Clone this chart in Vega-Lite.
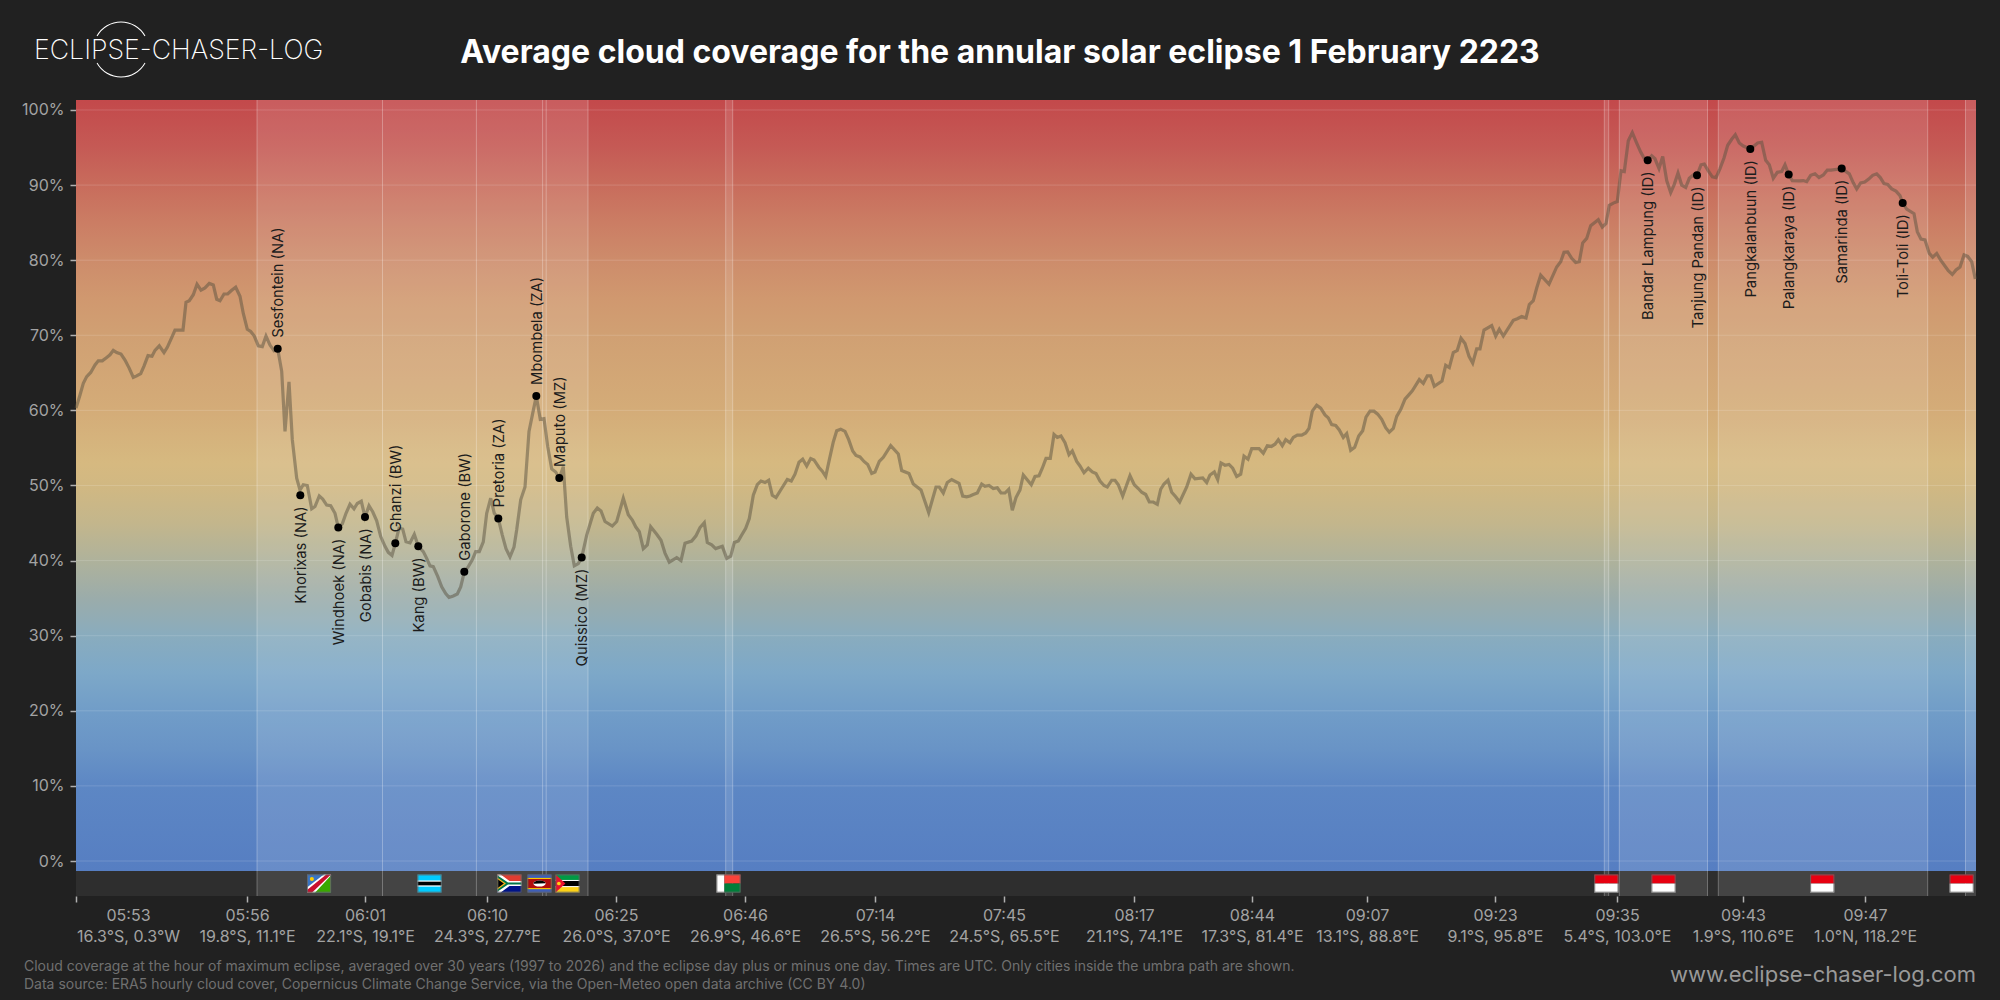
{
  "$schema": "https://vega.github.io/schema/vega-lite/v6.json",
  "width": 1900,
  "height": 796,
  "autosize": "none",
  "padding": {"left": 76, "top": 100, "right": 24, "bottom": 104},
  "background": "#212121",
  "config": {
    "view": {"stroke": null},
    "font": "Inter",
    "axis": {"grid": false, "domain": false, "title": null}
  },
  "title": {
    "text": "Average cloud coverage for the annular solar eclipse 1 February 2223",
    "font": "Inter",
    "fontSize": 32,
    "fontWeight": 700,
    "color": "#ffffff",
    "anchor": "middle",
    "frame": "group",
    "baseline": "alphabetic",
    "dx": -26,
    "offset": -73
  },
  "datasets": {
    "cloud": [
      {"path":0,"cloud":60.3},{"path":4,"cloud":62.05},{"path":7.3,"cloud":63.6},{"path":10.7,"cloud":64.5},{"path":14.7,"cloud":65.05},{"path":19,"cloud":66.05},{"path":22.3,"cloud":66.6},{"path":26.3,"cloud":66.6},{"path":30.7,"cloud":67.05},{"path":34,"cloud":67.4},{"path":37.3,"cloud":68},{"path":40.7,"cloud":67.7},{"path":45,"cloud":67.5},{"path":49,"cloud":66.7},{"path":53.3,"cloud":65.6},{"path":57.3,"cloud":64.4},{"path":60.7,"cloud":64.6},{"path":64.7,"cloud":64.9},{"path":68,"cloud":65.9},{"path":72,"cloud":67.3},{"path":76,"cloud":67.2},{"path":79,"cloud":68},{"path":83.3,"cloud":68.6},{"path":88,"cloud":67.7},{"path":91.3,"cloud":68.4},{"path":95,"cloud":69.5},{"path":99,"cloud":70.7},{"path":102.3,"cloud":70.7},{"path":107,"cloud":70.7},{"path":110,"cloud":74.4},{"path":113.3,"cloud":74.6},{"path":117.3,"cloud":75.4},{"path":121,"cloud":76.8},{"path":125,"cloud":76},{"path":129,"cloud":76.3},{"path":133.3,"cloud":76.9},{"path":137.3,"cloud":76.7},{"path":140.7,"cloud":74.8},{"path":144,"cloud":74.6},{"path":148,"cloud":75.5},{"path":151.7,"cloud":75.5},{"path":155.7,"cloud":76},{"path":159.7,"cloud":76.4},{"path":164,"cloud":75.2},{"path":167.3,"cloud":72.9},{"path":171.3,"cloud":70.8},{"path":174.7,"cloud":70.5},{"path":178.3,"cloud":69.9},{"path":182.3,"cloud":68.6},{"path":186.3,"cloud":68.5},{"path":190,"cloud":69.9},{"path":194,"cloud":68.7},{"path":198,"cloud":67.95},{"path":201.7,"cloud":68.2},
      {"path":205.7,"cloud":65.2},{"path":209,"cloud":57.2},{"path":213,"cloud":63.8},{"path":216.3,"cloud":56.1},{"path":220.7,"cloud":50.96},{"path":224,"cloud":49.4},{"path":227.3,"cloud":50.1},{"path":231.3,"cloud":50},{"path":235.7,"cloud":46.9},{"path":239,"cloud":47.2},{"path":243.3,"cloud":48.6},{"path":246.7,"cloud":48.2},{"path":250.7,"cloud":47.4},{"path":254.7,"cloud":47.3},{"path":259,"cloud":46.3},{"path":262.3,"cloud":44.4},{"path":266.3,"cloud":44.9},{"path":270,"cloud":46.3},{"path":274,"cloud":47.5},{"path":278,"cloud":46.9},{"path":281.3,"cloud":47.6},{"path":285.3,"cloud":47.9},{"path":289,"cloud":45.8},{"path":293,"cloud":47.3},{"path":296.7,"cloud":46.5},{"path":300.7,"cloud":45.3},{"path":304.7,"cloud":43.2},{"path":309,"cloud":41.9},{"path":312.3,"cloud":41.1},{"path":316,"cloud":40.7},{"path":319.3,"cloud":42.3},{"path":323,"cloud":44.3},{"path":326.7,"cloud":44.2},{"path":330,"cloud":42.5},{"path":334,"cloud":42.35},{"path":338.3,"cloud":43.5},{"path":342.3,"cloud":41.9},{"path":347.3,"cloud":41.2},{"path":350.7,"cloud":40.3},{"path":354,"cloud":39.3},{"path":357.3,"cloud":39.2},{"path":361.7,"cloud":37.9},{"path":365.7,"cloud":36.5},{"path":369.7,"cloud":35.6},{"path":373,"cloud":35.1},{"path":377.3,"cloud":35.3},{"path":381.3,"cloud":35.55},{"path":384.7,"cloud":36.5},{"path":388.3,"cloud":38.5},{"path":392.3,"cloud":39.2},{"path":396.3,"cloud":40.1},{"path":399.7,"cloud":41.2},{"path":403.3,"cloud":41.2},{"path":407.3,"cloud":42.5},{"path":410.7,"cloud":46.3},{"path":414.7,"cloud":48.3},{"path":418.3,"cloud":46.3},{"path":422.3,"cloud":45.6},{"path":426.3,"cloud":43.4},{"path":430,"cloud":41.6},{"path":434,"cloud":40.5},{"path":438,"cloud":41.8},{"path":440.7,"cloud":44.1},{"path":444.7,"cloud":48.1},{"path":449,"cloud":49.8},{"path":453,"cloud":57.2},{"path":456.7,"cloud":59.6},{"path":460.3,"cloud":61.9},{"path":464.3,"cloud":58.8},{"path":468,"cloud":58.9},{"path":471.7,"cloud":55.2},{"path":475.7,"cloud":52.2},{"path":479.7,"cloud":51.8},{"path":483.3,"cloud":51},{"path":487.3,"cloud":52.5},{"path":490.7,"cloud":45.8},{"path":494.7,"cloud":41.9},{"path":498.3,"cloud":39.3},{"path":502.3,"cloud":39.6},{"path":505.7,"cloud":40.4},
      {"path":510.7,"cloud":43.4},{"path":517.3,"cloud":46.3},{"path":521.3,"cloud":47},{"path":525,"cloud":46.6},{"path":529,"cloud":45.2},{"path":536.3,"cloud":44.6},{"path":540.7,"cloud":45.2},{"path":547.3,"cloud":48.3},{"path":552.3,"cloud":46.1},{"path":556.3,"cloud":45.4},{"path":559.7,"cloud":44.5},{"path":563.3,"cloud":43.85},{"path":567.3,"cloud":41.6},{"path":571.3,"cloud":42.1},{"path":574.7,"cloud":44.5},{"path":580.7,"cloud":43.5},{"path":585,"cloud":42.7},{"path":589,"cloud":41},{"path":593.3,"cloud":39.8},{"path":600.7,"cloud":40.4},{"path":605,"cloud":40},{"path":609,"cloud":42.3},{"path":615.7,"cloud":42.6},{"path":620,"cloud":43.3},{"path":624,"cloud":44.4},{"path":628.3,"cloud":45.05},{"path":631.3,"cloud":42.4},{"path":635.7,"cloud":42.1},{"path":639.7,"cloud":41.6},{"path":646.3,"cloud":41.9},{"path":650.7,"cloud":40.3},{"path":654.7,"cloud":40.6},{"path":658.3,"cloud":42.4},{"path":662.3,"cloud":42.6},{"path":665.7,"cloud":43.4},{"path":669.7,"cloud":44.3},{"path":673.3,"cloud":45.6},{"path":677.3,"cloud":48.7},{"path":681.3,"cloud":50.1},{"path":685,"cloud":50.6},{"path":689,"cloud":50.4},{"path":692.7,"cloud":50.7},{"path":696.3,"cloud":48.7},{"path":700,"cloud":48.4},{"path":704.7,"cloud":49.4},{"path":711.3,"cloud":50.8},{"path":715.3,"cloud":50.6},{"path":719,"cloud":51.5},{"path":723,"cloud":53.1},{"path":726.7,"cloud":53.5},{"path":730.7,"cloud":52.6},{"path":734.7,"cloud":53.6},{"path":738,"cloud":53.4},{"path":743,"cloud":52.4},{"path":746.3,"cloud":51.9},{"path":749.7,"cloud":51.2},{"path":753.3,"cloud":53.4},{"path":757.3,"cloud":55.8},{"path":760.7,"cloud":57.3},{"path":764.7,"cloud":57.5},{"path":769,"cloud":57.2},{"path":772.7,"cloud":56.1},{"path":776.7,"cloud":54.6},{"path":780,"cloud":54},{"path":784,"cloud":53.8},{"path":788,"cloud":53.2},{"path":791.7,"cloud":52.8},{"path":795.7,"cloud":51.6},{"path":799,"cloud":51.8},{"path":803.3,"cloud":53.2},{"path":807.3,"cloud":53.75},{"path":814.7,"cloud":55.3},{"path":822.3,"cloud":54.2},{"path":825.7,"cloud":52},{"path":833,"cloud":51.6},{"path":837.3,"cloud":50.2},{"path":845,"cloud":49.4},{"path":852.7,"cloud":46.4},{"path":860,"cloud":49.8},{"path":863.3,"cloud":49.8},{"path":867.3,"cloud":49},{"path":871.3,"cloud":50.4},{"path":875.7,"cloud":50.8},{"path":883,"cloud":50.3},{"path":886.7,"cloud":48.6},{"path":890.7,"cloud":48.5},{"path":894,"cloud":48.6},{"path":897.3,"cloud":48.8},{"path":901.3,"cloud":49},{"path":905.7,"cloud":50.2},{"path":909,"cloud":49.9},{"path":913,"cloud":50},{"path":917.3,"cloud":49.6},{"path":921.3,"cloud":49.7},{"path":925,"cloud":49},{"path":929,"cloud":49},{"path":932.7,"cloud":49.5},{"path":936.3,"cloud":46.7},{"path":940,"cloud":48.4},{"path":944,"cloud":49.4},{"path":947.3,"cloud":51.4},{"path":955.3,"cloud":50.1},{"path":959,"cloud":51.2},{"path":963,"cloud":51.3},{"path":966.3,"cloud":52.3},{"path":970,"cloud":53.6},{"path":974.3,"cloud":53.6},{"path":978,"cloud":56.8},{"path":981.3,"cloud":56.4},{"path":985,"cloud":56.6},{"path":989,"cloud":55.7},{"path":993,"cloud":54.1},{"path":996.3,"cloud":54.6},{"path":1000.7,"cloud":53.2},
      {"path":1004,"cloud":52.6},{"path":1008,"cloud":51.7},{"path":1012.3,"cloud":52.3},{"path":1016.3,"cloud":51.8},{"path":1020,"cloud":51.6},{"path":1024,"cloud":50.6},{"path":1028,"cloud":50},{"path":1031.3,"cloud":49.8},{"path":1035.7,"cloud":50.7},{"path":1039,"cloud":50.7},{"path":1042.3,"cloud":50.1},{"path":1046.7,"cloud":48.6},{"path":1054,"cloud":51.3},{"path":1058.3,"cloud":50.1},{"path":1062.3,"cloud":49.6},{"path":1065.7,"cloud":49.1},{"path":1069.7,"cloud":48.8},{"path":1073.3,"cloud":47.8},{"path":1077.3,"cloud":47.8},{"path":1081.3,"cloud":47.5},{"path":1084.7,"cloud":49.5},{"path":1088,"cloud":50.2},{"path":1092,"cloud":50.7},{"path":1095.7,"cloud":49.1},{"path":1099.7,"cloud":48.5},{"path":1103.7,"cloud":47.8},{"path":1110.7,"cloud":49.8},{"path":1115,"cloud":51.5},{"path":1119,"cloud":50.9},{"path":1126.7,"cloud":51},{"path":1130.7,"cloud":50.4},{"path":1134,"cloud":51.4},{"path":1138.3,"cloud":51.8},{"path":1141.7,"cloud":50.8},{"path":1145,"cloud":53},{"path":1149,"cloud":52.7},{"path":1153,"cloud":52.8},{"path":1156.7,"cloud":52.3},{"path":1160.7,"cloud":51.2},{"path":1164.7,"cloud":51.5},{"path":1168,"cloud":53.9},{"path":1172,"cloud":53.5},{"path":1175.7,"cloud":54.9},{"path":1183,"cloud":54.9},{"path":1187.3,"cloud":54.3},{"path":1191.3,"cloud":55.3},{"path":1195.3,"cloud":55.2},{"path":1199,"cloud":55.5},{"path":1202.3,"cloud":56.1},{"path":1206.3,"cloud":55.3},{"path":1209.7,"cloud":56.1},{"path":1214,"cloud":55.7},{"path":1217.3,"cloud":56.4},{"path":1221.3,"cloud":56.7},{"path":1225.7,"cloud":56.7},{"path":1229.7,"cloud":57},{"path":1233,"cloud":57.6},{"path":1236.3,"cloud":59.9},{"path":1240.7,"cloud":60.7},{"path":1244.7,"cloud":60.3},{"path":1249,"cloud":59.4},{"path":1252.3,"cloud":59},{"path":1255.7,"cloud":58.1},{"path":1259.7,"cloud":58},{"path":1263.3,"cloud":57.4},{"path":1267.3,"cloud":56.4},{"path":1270.7,"cloud":56.9},{"path":1274.7,"cloud":54.7},{"path":1278.7,"cloud":55.1},{"path":1282.7,"cloud":56.6},{"path":1286.7,"cloud":57.3},{"path":1290,"cloud":59.1},{"path":1294,"cloud":59.9},{"path":1298,"cloud":59.9},{"path":1301.7,"cloud":59.5},{"path":1305.7,"cloud":58.8},{"path":1309.7,"cloud":57.7},{"path":1313.3,"cloud":57.1},{"path":1317.3,"cloud":57.6},{"path":1320.7,"cloud":59.2},{"path":1324.7,"cloud":60.1},{"path":1329,"cloud":61.5},{"path":1333,"cloud":62.1},{"path":1336.3,"cloud":62.6},{"path":1343.3,"cloud":64.1},{"path":1347.3,"cloud":63.6},{"path":1351.3,"cloud":64.6},{"path":1354.7,"cloud":64.6},{"path":1358.3,"cloud":63.2},{"path":1366,"cloud":63.9},{"path":1369.7,"cloud":66},{"path":1373.3,"cloud":65.7},{"path":1377.3,"cloud":67.7},{"path":1381.3,"cloud":68},{"path":1385,"cloud":69.6},{"path":1389,"cloud":68.9},{"path":1393,"cloud":67.2},{"path":1396.7,"cloud":66.3},{"path":1400.7,"cloud":68.2},{"path":1404,"cloud":68.2},{"path":1408,"cloud":70.7},{"path":1415.7,"cloud":71.3},{"path":1419.7,"cloud":69.9},{"path":1423.3,"cloud":70.8},{"path":1427.3,"cloud":69.9},
      {"path":1437.3,"cloud":72},{"path":1441.3,"cloud":72.2},{"path":1445.7,"cloud":72.5},{"path":1450,"cloud":72.3},{"path":1453.3,"cloud":74.1},{"path":1457.3,"cloud":74.6},{"path":1460.7,"cloud":76.3},{"path":1464.7,"cloud":78},{"path":1473,"cloud":76.8},{"path":1480.7,"cloud":79.1},{"path":1484.7,"cloud":79.8},{"path":1488,"cloud":81.05},{"path":1491.7,"cloud":81.1},{"path":1495.7,"cloud":80.25},{"path":1499.7,"cloud":79.7},{"path":1503.3,"cloud":79.8},{"path":1506.7,"cloud":82.3},{"path":1510.7,"cloud":82.9},{"path":1514.7,"cloud":84.6},{"path":1522.3,"cloud":85.4},{"path":1526.3,"cloud":84.4},{"path":1530,"cloud":84.9},{"path":1533.3,"cloud":87.3},{"path":1537.3,"cloud":87.6},{"path":1541.3,"cloud":87.8},{"path":1545,"cloud":91.9},{"path":1548.3,"cloud":91.8},{"path":1552.3,"cloud":95.9},{"path":1556.3,"cloud":97},{"path":1560.7,"cloud":95.6},{"path":1564.7,"cloud":94.4},{"path":1568,"cloud":93.6},{"path":1571.7,"cloud":93.3},{"path":1575.7,"cloud":93.9},{"path":1579,"cloud":93.5},{"path":1583,"cloud":92.2},{"path":1586.7,"cloud":93.8},{"path":1590.7,"cloud":90.6},{"path":1594.7,"cloud":89},{"path":1598.3,"cloud":90.1},{"path":1602,"cloud":91.6},{"path":1605.7,"cloud":90},{"path":1609.7,"cloud":89.7},{"path":1613.3,"cloud":90.9},{"path":1617.3,"cloud":91.35},{"path":1621,"cloud":91.3},{"path":1625,"cloud":92.7},{"path":1628.3,"cloud":92.8},{"path":1632.3,"cloud":91.9},{"path":1636.3,"cloud":91.1},{"path":1640,"cloud":91},{"path":1644,"cloud":92.2},{"path":1648,"cloud":93.6},{"path":1651.7,"cloud":95.3},{"path":1655.7,"cloud":96.1},{"path":1659.3,"cloud":96.7},{"path":1663.3,"cloud":95.6},{"path":1667.3,"cloud":95.2},{"path":1674.3,"cloud":94.8},{"path":1678,"cloud":95.2},{"path":1681.7,"cloud":95.6},{"path":1685.7,"cloud":95.7},{"path":1689.7,"cloud":93.3},{"path":1693.3,"cloud":92.7},{"path":1697.3,"cloud":90.9},{"path":1701.3,"cloud":91.7},{"path":1705.7,"cloud":91.8},{"path":1709,"cloud":92.7},{"path":1712.7,"cloud":91.4},{"path":1716.3,"cloud":90.6},{"path":1724,"cloud":90.55},{"path":1727.3,"cloud":90.6},{"path":1730.7,"cloud":90.45},{"path":1734.7,"cloud":91.3},{"path":1739,"cloud":91.5},{"path":1743,"cloud":91},{"path":1747.3,"cloud":91.35},{"path":1751.3,"cloud":92},{"path":1755,"cloud":92},{"path":1765.7,"cloud":92.2},{"path":1769,"cloud":91.9},{"path":1773.3,"cloud":91.5},{"path":1777.3,"cloud":90.3},{"path":1780.7,"cloud":89.5},{"path":1784.7,"cloud":90.3},{"path":1788.7,"cloud":90.4},{"path":1792.7,"cloud":90.8},{"path":1796.7,"cloud":91.3},{"path":1800.7,"cloud":91.5},{"path":1804.3,"cloud":91},{"path":1808,"cloud":90.2},{"path":1811.7,"cloud":90.1},{"path":1815.7,"cloud":89.5},{"path":1820,"cloud":89.2},{"path":1824,"cloud":88.6},{"path":1826.7,"cloud":87.6},{"path":1830.7,"cloud":86.8},{"path":1838,"cloud":86.2},{"path":1841.3,"cloud":83.8},{"path":1845,"cloud":82.8},{"path":1849,"cloud":82.7},{"path":1853.3,"cloud":80.9},{"path":1856.7,"cloud":80.4},{"path":1860.7,"cloud":80.9},{"path":1864.7,"cloud":80},{"path":1872.3,"cloud":78.6},{"path":1876.3,"cloud":78.1},{"path":1880,"cloud":78.7},{"path":1884,"cloud":79.1},{"path":1888,"cloud":80.7},{"path":1891.7,"cloud":80.5},{"path":1895.7,"cloud":79.8},{"path":1899.3,"cloud":77.5}
    ],
    "cities": [
      {"city":"Sesfontein (NA)","path":201.7,"cloud":68.2,"side":"above"},
      {"city":"Khorixas (NA)","path":224.3,"cloud":48.7,"side":"below"},
      {"city":"Windhoek (NA)","path":262.3,"cloud":44.4,"side":"below"},
      {"city":"Gobabis (NA)","path":289,"cloud":45.8,"side":"below"},
      {"city":"Ghanzi (BW)","path":319.3,"cloud":42.3,"side":"above"},
      {"city":"Kang (BW)","path":342.3,"cloud":41.9,"side":"below"},
      {"city":"Gaborone (BW)","path":388.3,"cloud":38.5,"side":"above"},
      {"city":"Pretoria (ZA)","path":422.3,"cloud":45.6,"side":"above"},
      {"city":"Mbombela (ZA)","path":460.3,"cloud":61.9,"side":"above"},
      {"city":"Maputo (MZ)","path":483.3,"cloud":51,"side":"above"},
      {"city":"Quissico (MZ)","path":505.7,"cloud":40.4,"side":"below"},
      {"city":"Bandar Lampung (ID)","path":1571.7,"cloud":93.3,"side":"below"},
      {"city":"Tanjung Pandan (ID)","path":1621,"cloud":91.3,"side":"below"},
      {"city":"Pangkalanbuun (ID)","path":1674.3,"cloud":94.8,"side":"below"},
      {"city":"Palangkaraya (ID)","path":1712.7,"cloud":91.4,"side":"below"},
      {"city":"Samarinda (ID)","path":1765.7,"cloud":92.2,"side":"below"},
      {"city":"Toli-Toli (ID)","path":1826.7,"cloud":87.6,"side":"below"}
    ],
    "umbra": [
      {"start":181,"end":512},
      {"start":649.7,"end":656.7},
      {"start":1528.3,"end":1532.7},
      {"start":1543.3,"end":1631.5},
      {"start":1642.3,"end":1851.7},
      {"start":1889.5,"end":1900}
    ],
    "borders": [
      {"path":181},{"path":306.5},{"path":400.4},{"path":466.6},{"path":470.2},{"path":512},
      {"path":649.7},{"path":656.7},{"path":1528.3},{"path":1532.7},{"path":1543.3},{"path":1631.5},{"path":1642.3},{"path":1851.7},{"path":1889.5}
    ],
    "grid": [
      {"pct":0},{"pct":10},{"pct":20},{"pct":30},{"pct":40},{"pct":50},{"pct":60},{"pct":70},{"pct":80},{"pct":90},{"pct":100}
    ],
    "flags": [
      {"country":"NA","path":243,"url":"data:image/svg+xml;utf8,<svg xmlns='http://www.w3.org/2000/svg' width='24' height='18' viewBox='0 0 24 18' preserveAspectRatio='none'><rect width='24' height='18' fill='%233a75c4'/><path d='M0 18L24 0V18Z' fill='%2339a800'/><path d='M0 18V13L17 0H24V1L8 18Z' fill='%23fff'/><path d='M0 18V15.5L19.5 0H24L5 18Z' fill='%23c8102e'/><circle cx='5' cy='4.5' r='2' fill='%23ffce00'/><rect x='.5' y='.5' width='23' height='17' fill='none' stroke='%23666'/></svg>"},
      {"country":"BW","path":353.5,"url":"data:image/svg+xml;utf8,<svg xmlns='http://www.w3.org/2000/svg' width='24' height='18' viewBox='0 0 24 18' preserveAspectRatio='none'><rect width='24' height='18' fill='%2300cbff'/><rect y='6' width='24' height='6' fill='%23fff'/><rect y='7.2' width='24' height='3.6' fill='%23000'/><rect x='.5' y='.5' width='23' height='17' fill='none' stroke='%23666'/></svg>"},
      {"country":"ZA","path":433.5,"url":"data:image/svg+xml;utf8,<svg xmlns='http://www.w3.org/2000/svg' width='24' height='18' viewBox='0 0 24 18' preserveAspectRatio='none'><rect width='24' height='9' fill='%23e03c31'/><rect y='9' width='24' height='9' fill='%23001489'/><path d='M0 0H3L12 6.5H24V11.5H12L3 18H0Z' fill='%23fff'/><path d='M0 1L10.5 8H24V10H10.5L0 17Z' fill='%23007749'/><path d='M0 3L8.5 9L0 15Z' fill='%23ffb81c'/><path d='M0 4.5L6.5 9L0 13.5Z' fill='%23000'/><rect x='.5' y='.5' width='23' height='17' fill='none' stroke='%23666'/></svg>"},
      {"country":"SZ","path":463.5,"url":"data:image/svg+xml;utf8,<svg xmlns='http://www.w3.org/2000/svg' width='24' height='18' viewBox='0 0 24 18' preserveAspectRatio='none'><rect width='24' height='18' fill='%233e5eb9'/><rect y='3.5' width='24' height='11' fill='%23ffd900'/><rect y='4.5' width='24' height='9' fill='%23b10c0c'/><ellipse cx='12' cy='9' rx='6' ry='3' fill='%23fff'/><path d='M6 9A6 3 0 0 1 18 9Z' fill='%23000' transform='rotate(-3 12 9)'/><rect x='.5' y='.5' width='23' height='17' fill='none' stroke='%23666'/></svg>"},
      {"country":"MZ","path":491.5,"url":"data:image/svg+xml;utf8,<svg xmlns='http://www.w3.org/2000/svg' width='24' height='18' viewBox='0 0 24 18' preserveAspectRatio='none'><rect width='24' height='6' fill='%23009a44'/><rect y='6' width='24' height='6' fill='%23000'/><rect y='12' width='24' height='6' fill='%23fcd116'/><rect y='5.5' width='24' height='1' fill='%23fff'/><rect y='11.5' width='24' height='1' fill='%23fff'/><path d='M0 0L10 9L0 18Z' fill='%23e8112d'/><circle cx='3.5' cy='9' r='1.8' fill='%23fcd116'/><rect x='.5' y='.5' width='23' height='17' fill='none' stroke='%23666'/></svg>"},
      {"country":"MG","path":652.5,"url":"data:image/svg+xml;utf8,<svg xmlns='http://www.w3.org/2000/svg' width='24' height='18' viewBox='0 0 24 18' preserveAspectRatio='none'><rect width='8' height='18' fill='%23fff'/><rect x='8' width='16' height='9' fill='%23f9423a'/><rect x='8' y='9' width='16' height='9' fill='%23007e3a'/><rect x='.5' y='.5' width='23' height='17' fill='none' stroke='%23666'/></svg>"},
      {"country":"ID","path":1530.4,"url":"data:image/svg+xml;utf8,<svg xmlns='http://www.w3.org/2000/svg' width='24' height='18' viewBox='0 0 24 18' preserveAspectRatio='none'><rect width='24' height='9' fill='%23e70011'/><rect y='9' width='24' height='9' fill='%23fff'/><rect x='.5' y='.5' width='23' height='17' fill='none' stroke='%23666'/></svg>"},
      {"country":"ID","path":1587.5,"url":"data:image/svg+xml;utf8,<svg xmlns='http://www.w3.org/2000/svg' width='24' height='18' viewBox='0 0 24 18' preserveAspectRatio='none'><rect width='24' height='9' fill='%23e70011'/><rect y='9' width='24' height='9' fill='%23fff'/><rect x='.5' y='.5' width='23' height='17' fill='none' stroke='%23666'/></svg>"},
      {"country":"ID","path":1746.3,"url":"data:image/svg+xml;utf8,<svg xmlns='http://www.w3.org/2000/svg' width='24' height='18' viewBox='0 0 24 18' preserveAspectRatio='none'><rect width='24' height='9' fill='%23e70011'/><rect y='9' width='24' height='9' fill='%23fff'/><rect x='.5' y='.5' width='23' height='17' fill='none' stroke='%23666'/></svg>"},
      {"country":"ID","path":1885.6,"url":"data:image/svg+xml;utf8,<svg xmlns='http://www.w3.org/2000/svg' width='24' height='18' viewBox='0 0 24 18' preserveAspectRatio='none'><rect width='24' height='9' fill='%23e70011'/><rect y='9' width='24' height='9' fill='%23fff'/><rect x='.5' y='.5' width='23' height='17' fill='none' stroke='%23666'/></svg>"}
    ]
  },
  "layer": [
    {
      "data": {"values": [{"band": "coverage"}]},
      "mark": {
        "type": "rect",
        "color": {
          "gradient": "linear",
          "x1": 0, "y1": 0, "x2": 0, "y2": 1,
          "stops": [
            {"offset": 0, "color": "#c3494b"},
            {"offset": 0.062, "color": "#c55a55"},
            {"offset": 0.11, "color": "#c86c5c"},
            {"offset": 0.159, "color": "#cb7d64"},
            {"offset": 0.208, "color": "#cd8c6b"},
            {"offset": 0.257, "color": "#d0986f"},
            {"offset": 0.305, "color": "#d0a073"},
            {"offset": 0.403, "color": "#d4ac78"},
            {"offset": 0.471, "color": "#d6b980"},
            {"offset": 0.5, "color": "#d1b882"},
            {"offset": 0.549, "color": "#c3b68c"},
            {"offset": 0.597, "color": "#afb29b"},
            {"offset": 0.646, "color": "#9bacaa"},
            {"offset": 0.695, "color": "#89acbe"},
            {"offset": 0.743, "color": "#7da8c8"},
            {"offset": 0.792, "color": "#719dc8"},
            {"offset": 0.841, "color": "#6994c6"},
            {"offset": 0.889, "color": "#5d87c4"},
            {"offset": 1, "color": "#567ec2"}
          ]
        }
      },
      "encoding": {
        "y": {"datum": 101.33, "type": "quantitative", "scale": {"domain": [-4.66, 101.33], "nice": false, "zero": false}},
        "y2": {"datum": -1.33}
      }
    },
    {
      "data": {"values": [{"band": "countries"}]},
      "mark": {"type": "rect", "color": "#2e2e2e"},
      "encoding": {
        "y": {"datum": -1.33, "type": "quantitative"},
        "y2": {"datum": -4.66}
      }
    },
    {
      "data": {"name": "grid"},
      "mark": {"type": "rule", "color": "#ffffff", "opacity": 0.15, "strokeWidth": 1},
      "encoding": {"y": {"field": "pct", "type": "quantitative"}}
    },
    {
      "data": {"name": "umbra"},
      "mark": {"type": "rect", "color": "#ffffff", "opacity": 0.11},
      "encoding": {
        "x": {"field": "start", "type": "quantitative", "scale": {"domain": [0, 1900], "nice": false, "zero": false}},
        "x2": {"field": "end"}
      }
    },
    {
      "data": {"name": "borders"},
      "mark": {"type": "rule", "color": "#ffffff", "opacity": 0.28, "strokeWidth": 1},
      "encoding": {"x": {"field": "path", "type": "quantitative"}}
    },
    {
      "data": {"name": "cloud"},
      "mark": {"type": "line", "color": "#5a5240", "opacity": 0.5, "strokeWidth": 3.2, "interpolate": "linear"},
      "encoding": {
        "x": {
          "field": "path",
          "type": "quantitative",
          "axis": {
            "title": null,
            "values": [0, 171, 289, 411, 540, 669, 799, 928, 1058, 1176, 1291, 1419, 1541, 1667, 1789],
            "labelExpr": "{'0':['05:53','16.3°S, 0.3°W'],'171':['05:56','19.8°S, 11.1°E'],'289':['06:01','22.1°S, 19.1°E'],'411':['06:10','24.3°S, 27.7°E'],'540':['06:25','26.0°S, 37.0°E'],'669':['06:46','26.9°S, 46.6°E'],'799':['07:14','26.5°S, 56.2°E'],'928':['07:45','24.5°S, 65.5°E'],'1058':['08:17','21.1°S, 74.1°E'],'1176':['08:44','17.3°S, 81.4°E'],'1291':['09:07','13.1°S, 88.8°E'],'1419':['09:23','9.1°S, 95.8°E'],'1541':['09:35','5.4°S, 103.0°E'],'1667':['09:43','1.9°S, 110.6°E'],'1789':['09:47','1.0°N, 118.2°E']}[datum.value]",
            "labelAlign": "center",
            "labelOffset": {"condition": {"test": "datum.value === 0", "value": 52}, "value": 0},
            "labelFont": "Inter",
            "labelFontSize": 16,
            "labelColor": "#a3a3a3",
            "labelLineHeight": 21,
            "labelPadding": 5,
            "labelOverlap": false,
            "labelBound": false,
            "labelFlush": false,
            "tickColor": "#b0b0b0",
            "tickWidth": 1.5,
            "tickSize": 6
          }
        },
        "y": {
          "field": "cloud",
          "type": "quantitative",
          "axis": {
            "title": null,
            "values": [0, 10, 20, 30, 40, 50, 60, 70, 80, 90, 100],
            "labelExpr": "datum.value + '%'",
            "labelFont": "Inter",
            "labelFontSize": 16,
            "labelColor": "#a3a3a3",
            "labelPadding": 6,
            "tickColor": "#b0b0b0",
            "tickWidth": 1.5,
            "tickSize": 6
          }
        }
      }
    },
    {
      "data": {"name": "flags"},
      "mark": {"type": "image", "width": 24.4, "height": 18.4, "aspect": false},
      "encoding": {
        "x": {"field": "path", "type": "quantitative"},
        "y": {"datum": -3, "type": "quantitative"},
        "url": {"field": "url", "type": "nominal"}
      }
    },
    {
      "data": {"name": "cities"},
      "mark": {"type": "point", "filled": true, "color": "#000000", "size": 64, "opacity": 1},
      "encoding": {
        "x": {"field": "path", "type": "quantitative"},
        "y": {"field": "cloud", "type": "quantitative"}
      }
    },
    {
      "data": {"name": "cities"},
      "transform": [{"filter": "datum.side === 'above'"}],
      "mark": {"type": "text", "angle": 270, "align": "left", "baseline": "middle", "dx": 11, "dy": 1.5, "font": "Inter", "fontSize": 14.8, "color": "#1c1c1c"},
      "encoding": {
        "x": {"field": "path", "type": "quantitative"},
        "y": {"field": "cloud", "type": "quantitative"},
        "text": {"field": "city"}
      }
    },
    {
      "data": {"name": "cities"},
      "transform": [{"filter": "datum.side === 'below'"}],
      "mark": {"type": "text", "angle": 270, "align": "right", "baseline": "middle", "dx": -11, "dy": 1.5, "font": "Inter", "fontSize": 14.8, "color": "#1c1c1c"},
      "encoding": {
        "x": {"field": "path", "type": "quantitative"},
        "y": {"field": "cloud", "type": "quantitative"},
        "text": {"field": "city"}
      }
    },
    {
      "data": {"values": [{"logo": "ECLIPSE-CHASER-LOG"}]},
      "mark": {"type": "text", "align": "left", "baseline": "alphabetic", "font": "Inter", "fontSize": 26.7, "fontWeight": 200, "color": "#ffffff"},
      "encoding": {
        "x": {"datum": -42, "type": "quantitative"},
        "y": {"datum": 106.8, "type": "quantitative"},
        "text": {"field": "logo"}
      }
    },
    {
      "data": {"values": [{"logo": "upper arc"}]},
      "mark": {"type": "arc", "radius": 28, "radius2": 27, "theta": -1.06, "theta2": 1.06, "color": "#ffffff"},
      "encoding": {
        "x": {"datum": 45, "type": "quantitative"},
        "y": {"datum": 108.05, "type": "quantitative"}
      }
    },
    {
      "data": {"values": [{"logo": "lower arc"}]},
      "mark": {"type": "arc", "radius": 28, "radius2": 27, "theta": 2.08, "theta2": 4.2, "color": "#ffffff"},
      "encoding": {
        "x": {"datum": 45, "type": "quantitative"},
        "y": {"datum": 108.05, "type": "quantitative"}
      }
    },
    {
      "data": {"values": [{"note": "Cloud coverage at the hour of maximum eclipse, averaged over 30 years (1997 to 2026) and the eclipse day plus or minus one day. Times are UTC. Only cities inside the umbra path are shown."}]},
      "mark": {"type": "text", "align": "left", "baseline": "middle", "font": "Inter", "fontSize": 14, "color": "#707070"},
      "encoding": {
        "x": {"datum": -52, "type": "quantitative"},
        "y": {"datum": -14.1, "type": "quantitative"},
        "text": {"field": "note"}
      }
    },
    {
      "data": {"values": [{"note": "Data source: ERA5 hourly cloud cover, Copernicus Climate Change Service, via the Open-Meteo open data archive (CC BY 4.0)"}]},
      "mark": {"type": "text", "align": "left", "baseline": "middle", "font": "Inter", "fontSize": 14, "color": "#707070"},
      "encoding": {
        "x": {"datum": -52, "type": "quantitative"},
        "y": {"datum": -16.5, "type": "quantitative"},
        "text": {"field": "note"}
      }
    },
    {
      "data": {"values": [{"site": "www.eclipse-chaser-log.com"}]},
      "mark": {"type": "text", "align": "right", "baseline": "middle", "font": "Inter", "fontSize": 22, "color": "#999999"},
      "encoding": {
        "x": {"datum": 1900, "type": "quantitative"},
        "y": {"datum": -15.2, "type": "quantitative"},
        "text": {"field": "site"}
      }
    }
  ]
}
